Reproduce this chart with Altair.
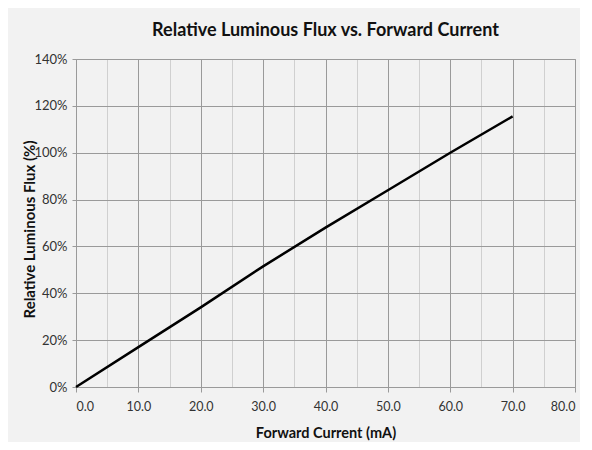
import altair as alt
import pandas as pd

current_ma = [0, 10, 20, 30, 40, 50, 60, 70]
rel_flux = [0.0, 0.17, 0.34, 0.515, 0.68, 0.84, 1.0, 1.155]

df = pd.DataFrame({"current": current_ma, "flux": rel_flux})

major_x = "datum.value % 10 === 0"

chart = alt.Chart(df).mark_line(color="#000000", strokeWidth=2.5).encode(
    x=alt.X("current:Q", scale=alt.Scale(domain=[0, 80], nice=False),
            axis=alt.Axis(values=list(range(0, 81, 5)), format=".1f",
                          labelExpr="datum.value % 10 === 0 ? format(datum.value, '.1f') : ''",
                          title="Forward Current (mA)",
                          gridColor={"condition": {"test": major_x, "value": "#9a9a9a"}, "value": "#d0d0d0"},
                          tickColor={"condition": {"test": major_x, "value": "#9a9a9a"}, "value": "transparent"},
                          tickSize=5, labelPadding=8, titlePadding=14, labelFontSize=12.5,
                          titleFontSize=14.5)),
    y=alt.Y("flux:Q", scale=alt.Scale(domain=[0, 1.4], nice=False),
            axis=alt.Axis(values=[0, 0.2, 0.4, 0.6, 0.8, 1.0, 1.2, 1.4], format=".0%",
                          title="Relative Luminous Flux (%)", gridColor="#9a9a9a",
                          tickColor="#9a9a9a", tickSize=4, labelPadding=5, titlePadding=3,
                          labelFontSize=13, titleFontSize=15, titleX=-39, titleY=170)),
).properties(
    width=499, height=328,
    title=alt.TitleParams("Relative Luminous Flux vs. Forward Current", fontSize=18,
                          font="Lato", fontWeight="bold", color="#111111", offset=13),
    autosize=alt.AutoSizeParams(type="none"),
    padding={"left": 68, "top": 51, "right": 5, "bottom": 55},
    background="#f2f2f2",
).configure_axis(
    labelFont="Lato", labelFontSize=12, labelColor="#333333",
    titleFont="Lato", titleFontSize=13, titleFontWeight="bold", titleColor="#111111",
    domainColor="#9a9a9a", gridOpacity=1,
).configure_view(stroke="#9a9a9a", fill="#f2f2f2")

chart.save("out.html", embed_options={"renderer": "svg", "actions": False})
